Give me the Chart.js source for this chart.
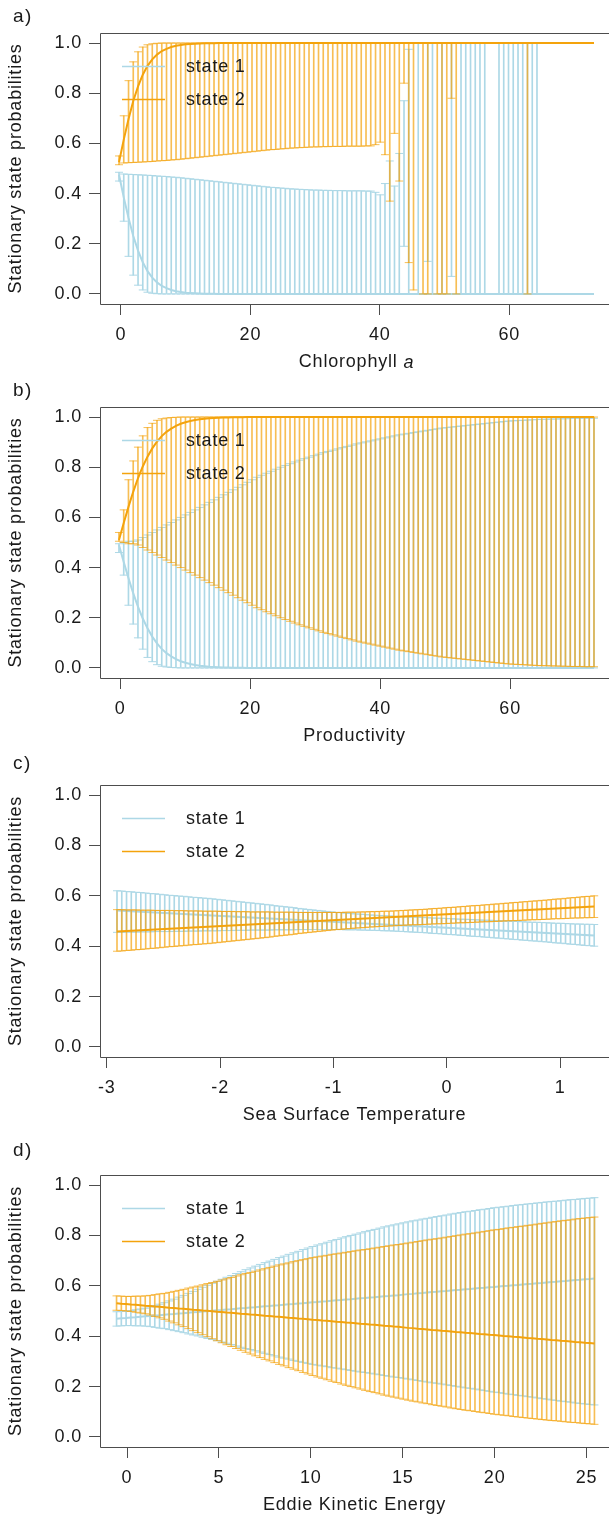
<!DOCTYPE html>
<html>
<head>
<meta charset="utf-8">
<script src="https://cdn.jsdelivr.net/npm/chart.js@4.4.1/dist/chart.umd.min.js"></script>
<style>
  html, body { margin: 0; padding: 0; background: #fff; }
  body { width: 609px; height: 1520px; overflow: hidden; position: relative; font-family: "Liberation Sans", Arial, sans-serif; }
  canvas.panel { position: absolute; left: 0; display: block; }
  .tag { position: absolute; left: 13px; font-size: 19px; line-height: 22px; letter-spacing: 1.5px; color: #1a1a1a; }
</style>
</head>
<body>
<canvas id="pa" class="panel" width="609" height="374" style="top:0px"></canvas>
<canvas id="pb" class="panel" width="609" height="368" style="top:380px"></canvas>
<canvas id="pc" class="panel" width="609" height="367" style="top:760px"></canvas>
<canvas id="pd" class="panel" width="609" height="377" style="top:1140px"></canvas>
<div class="tag" style="top:5px">a)</div>
<div class="tag" style="top:379px">b)</div>
<div class="tag" style="top:752px">c)</div>
<div class="tag" style="top:1139px">d)</div>
<script>
// shared labels and ticks
var legendLabels = ['state 1', 'state 2'];
var yTitle = 'Stationary state probabilities';
var yTicks = [0, 0.2, 0.4, 0.6, 0.8, 1];
var chlTicks = [0, 20, 40, 60];
var prodTicks = [0, 20, 40, 60];
var sstTicks = [-3, -2, -1, 0, 1];
var ekeTicks = [0, 5, 10, 15, 20, 25];
var chlTitleParts = ['Chlorophyll ', 'a'];

// a) Chlorophyll a
var chlX = [
  -0.30, 0.43, 1.17, 1.90, 2.64, 3.37, 4.10, 4.84, 5.57, 6.31,
  7.04, 7.77, 8.51, 9.24, 9.98, 10.71, 11.44, 12.18, 12.91, 13.65,
  14.38, 15.11, 15.85, 16.58, 17.32, 18.05, 18.78, 19.52, 20.25, 20.99,
  21.72, 22.45, 23.19, 23.92, 24.66, 25.39, 26.12, 26.86, 27.59, 28.33,
  29.06, 29.79, 30.53, 31.26, 32.00, 32.73, 33.46, 34.20, 34.93, 35.67,
  36.40, 37.13, 37.87, 38.60, 39.34, 40.07, 40.80, 41.54, 42.27, 43.01,
  43.74, 44.47, 45.21, 45.94, 46.68, 47.41, 48.14, 48.88, 49.61, 50.35,
  51.08, 51.81, 52.55, 53.28, 54.02, 54.75, 55.48, 56.22, 56.95, 57.69,
  58.42, 59.15, 59.89, 60.62, 61.36, 62.09, 62.82, 63.56, 64.29, 65.03,
  65.76, 66.49, 67.23, 67.96, 68.70, 69.43, 70.16, 70.90, 71.63, 72.37,
  73.10
];
var chlS1 = [
  0.475, 0.385, 0.303, 0.231, 0.173, 0.126, 0.091, 0.065, 0.046, 0.032,
  0.023, 0.016, 0.011, 0.008, 0.005, 0.004, 0.003, 0.002, 0.001, 0.001,
  0.001, 0, 0, 0, 0, 0, 0, 0, 0, 0,
  0, 0, 0, 0, 0, 0, 0, 0, 0, 0,
  0, 0, 0, 0, 0, 0, 0, 0, 0, 0,
  0, 0, 0, 0, 0, 0, 0, 0, 0, 0,
  0, 0, 0, 0, 0, 0, 0, 0, 0, 0,
  0, 0, 0, 0, 0, 0, 0, 0, 0, 0,
  0, 0, 0, 0, 0, 0, 0, 0, 0, 0,
  0, 0, 0, 0, 0, 0, 0, 0, 0, 0,
  0
];
var chlS1Lo = [
  0.45, 0.29, 0.15, 0.075, 0.035, 0.016, 0.007, 0.003, 0.001, 0,
  0, 0, 0, 0, 0, 0, 0, 0, 0, 0,
  0, 0, 0, 0, 0, 0, 0, 0, 0, 0,
  0, 0, 0, 0, 0, 0, 0, 0, 0, 0,
  0, 0, 0, 0, 0, 0, 0, 0, 0, 0,
  0, 0, 0, 0, 0, 0, 0, 0, 0, 0,
  0.19, 0, null, 0, null, 0.13, 0, null, 0, null,
  0.07, null, 0, 0, 0, 0, 0, 0, null, null,
  0, 0, 0, 0, 0, 0, 0, 0, 0, null,
  null, null, null, null, null, null, null, null, null, null,
  null
];
var chlS1Hi = [
  0.485, 0.478, 0.477, 0.476, 0.475, 0.474, 0.473, 0.472, 0.470, 0.469,
  0.468, 0.466, 0.465, 0.463, 0.461, 0.459, 0.457, 0.455, 0.453, 0.451,
  0.449, 0.447, 0.445, 0.443, 0.441, 0.439, 0.437, 0.435, 0.433, 0.431,
  0.429, 0.427, 0.425, 0.424, 0.422, 0.421, 0.419, 0.418, 0.417, 0.416,
  0.415, 0.414, 0.414, 0.413, 0.413, 0.412, 0.412, 0.412, 0.411, 0.411,
  0.411, 0.411, 0.410, 0.410, 0.405, 0.395, 0.44, 0.53, 0.43, 0.56,
  0.77, 0.975, null, 1, null, 1, 1, null, 1, null,
  1, null, 1, 1, 1, 1, 1, 1, null, null,
  1, 1, 1, 1, 1, 1, 1, 1, 1, null,
  null, null, null, null, null, null, null, null, null, null,
  null
];
var chlS2 = [
  0.525, 0.615, 0.697, 0.769, 0.827, 0.874, 0.909, 0.935, 0.954, 0.968,
  0.977, 0.984, 0.989, 0.992, 0.995, 0.996, 0.997, 0.998, 0.999, 0.999,
  0.999, 1, 1, 1, 1, 1, 1, 1, 1, 1,
  1, 1, 1, 1, 1, 1, 1, 1, 1, 1,
  1, 1, 1, 1, 1, 1, 1, 1, 1, 1,
  1, 1, 1, 1, 1, 1, 1, 1, 1, 1,
  1, 1, 1, 1, 1, 1, 1, 1, 1, 1,
  1, 1, 1, 1, 1, 1, 1, 1, 1, 1,
  1, 1, 1, 1, 1, 1, 1, 1, 1, 1,
  1, 1, 1, 1, 1, 1, 1, 1, 1, 1,
  1
];
var chlS2Lo = [
  0.515, 0.522, 0.523, 0.524, 0.525, 0.526, 0.527, 0.528, 0.530, 0.531,
  0.532, 0.534, 0.535, 0.537, 0.539, 0.541, 0.543, 0.545, 0.547, 0.549,
  0.551, 0.553, 0.555, 0.557, 0.559, 0.561, 0.563, 0.565, 0.567, 0.569,
  0.571, 0.573, 0.575, 0.576, 0.578, 0.579, 0.581, 0.582, 0.583, 0.584,
  0.585, 0.586, 0.586, 0.587, 0.587, 0.588, 0.588, 0.588, 0.589, 0.589,
  0.589, 0.589, 0.590, 0.590, 0.595, 0.605, 0.555, 0.37, 0.64, 0.45,
  0.84, 0.125, 0.016, null, 0, 0, null, 0, 0, 0,
  0.78, 0, null, null, null, null, null, null, null, null,
  null, null, null, null, null, null, 0, null, null, null,
  null, null, null, null, null, null, null, null, null, null,
  null
];
var chlS2Hi = [
  0.55, 0.71, 0.85, 0.925, 0.965, 0.984, 0.993, 0.997, 0.999, 1,
  1, 1, 1, 1, 1, 1, 1, 1, 1, 1,
  1, 1, 1, 1, 1, 1, 1, 1, 1, 1,
  1, 1, 1, 1, 1, 1, 1, 1, 1, 1,
  1, 1, 1, 1, 1, 1, 1, 1, 1, 1,
  1, 1, 1, 1, 1, 1, 1, 1, 1, 1,
  1, 1, 1, null, 1, 1, null, 1, 1, 1,
  1, 1, null, null, null, null, null, null, null, null,
  null, null, null, null, null, null, 1, null, null, null,
  null, null, null, null, null, null, null, null, null, null,
  null
];

// b) Productivity
var prodX = [
  -0.20, 0.53, 1.26, 1.99, 2.72, 3.46, 4.19, 4.92, 5.65, 6.38,
  7.11, 7.84, 8.57, 9.30, 10.03, 10.77, 11.50, 12.23, 12.96, 13.69,
  14.42, 15.15, 15.88, 16.61, 17.34, 18.08, 18.81, 19.54, 20.27, 21.00,
  21.73, 22.46, 23.19, 23.92, 24.65, 25.39, 26.12, 26.85, 27.58, 28.31,
  29.04, 29.77, 30.50, 31.23, 31.96, 32.70, 33.43, 34.16, 34.89, 35.62,
  36.35, 37.08, 37.81, 38.54, 39.27, 40.01, 40.74, 41.47, 42.20, 42.93,
  43.66, 44.39, 45.12, 45.85, 46.58, 47.32, 48.05, 48.78, 49.51, 50.24,
  50.97, 51.70, 52.43, 53.16, 53.89, 54.63, 55.36, 56.09, 56.82, 57.55,
  58.28, 59.01, 59.74, 60.47, 61.20, 61.94, 62.67, 63.40, 64.13, 64.86,
  65.59, 66.32, 67.05, 67.78, 68.51, 69.25, 69.98, 70.71, 71.44, 72.17,
  72.90
];
var prodS1 = [
  0.490, 0.422, 0.358, 0.298, 0.244, 0.197, 0.158, 0.125, 0.098, 0.076,
  0.059, 0.046, 0.035, 0.027, 0.021, 0.016, 0.012, 0.009, 0.007, 0.005,
  0.004, 0.003, 0.002, 0.002, 0.001, 0.001, 0.001, 0, 0, 0,
  0, 0, 0, 0, 0, 0, 0, 0, 0, 0,
  0, 0, 0, 0, 0, 0, 0, 0, 0, 0,
  0, 0, 0, 0, 0, 0, 0, 0, 0, 0,
  0, 0, 0, 0, 0, 0, 0, 0, 0, 0,
  0, 0, 0, 0, 0, 0, 0, 0, 0, 0,
  0, 0, 0, 0, 0, 0, 0, 0, 0, 0,
  0, 0, 0, 0, 0, 0, 0, 0, 0, 0,
  0
];
var prodS1Lo = [
  0.46, 0.37, 0.25, 0.175, 0.12, 0.075, 0.042, 0.025, 0.013, 0.007,
  0.004, 0.002, 0.001, 0, 0, 0, 0, 0, 0, 0,
  0, 0, 0, 0, 0, 0, 0, 0, 0, 0,
  0, 0, 0, 0, 0, 0, 0, 0, 0, 0,
  0, 0, 0, 0, 0, 0, 0, 0, 0, 0,
  0, 0, 0, 0, 0, 0, 0, 0, 0, 0,
  0, 0, 0, 0, 0, 0, 0, 0, 0, 0,
  0, 0, 0, 0, 0, 0, 0, 0, 0, 0,
  0, 0, 0, 0, 0, 0, 0, 0, 0, 0,
  0, 0, 0, 0, 0, 0, 0, 0, 0, 0,
  0
];
var prodS1Hi = [
  0.495, 0.500, 0.505, 0.505, 0.510, 0.520, 0.530, 0.540, 0.550, 0.560,
  0.570, 0.580, 0.590, 0.600, 0.610, 0.620, 0.630, 0.640, 0.650, 0.660,
  0.670, 0.680, 0.690, 0.700, 0.710, 0.720, 0.730, 0.740, 0.750, 0.760,
  0.768, 0.776, 0.784, 0.792, 0.800, 0.807, 0.814, 0.821, 0.828, 0.834,
  0.840, 0.846, 0.852, 0.858, 0.863, 0.868, 0.873, 0.878, 0.883, 0.888,
  0.893, 0.897, 0.901, 0.905, 0.909, 0.913, 0.917, 0.921, 0.925, 0.929,
  0.932, 0.935, 0.938, 0.941, 0.944, 0.947, 0.950, 0.953, 0.956, 0.958,
  0.960, 0.962, 0.964, 0.966, 0.968, 0.970, 0.972, 0.974, 0.976, 0.978,
  0.980, 0.982, 0.984, 0.985, 0.986, 0.987, 0.988, 0.989, 0.990, 0.991,
  0.991, 0.992, 0.992, 0.993, 0.993, 0.994, 0.994, 0.994, 0.995, 0.995,
  0.995
];
var prodS2 = [
  0.510, 0.578, 0.642, 0.702, 0.756, 0.803, 0.842, 0.875, 0.902, 0.924,
  0.941, 0.954, 0.965, 0.973, 0.979, 0.984, 0.988, 0.991, 0.993, 0.995,
  0.996, 0.997, 0.998, 0.998, 0.999, 0.999, 0.999, 1, 1, 1,
  1, 1, 1, 1, 1, 1, 1, 1, 1, 1,
  1, 1, 1, 1, 1, 1, 1, 1, 1, 1,
  1, 1, 1, 1, 1, 1, 1, 1, 1, 1,
  1, 1, 1, 1, 1, 1, 1, 1, 1, 1,
  1, 1, 1, 1, 1, 1, 1, 1, 1, 1,
  1, 1, 1, 1, 1, 1, 1, 1, 1, 1,
  1, 1, 1, 1, 1, 1, 1, 1, 1, 1,
  1
];
var prodS2Lo = [
  0.505, 0.500, 0.495, 0.495, 0.490, 0.480, 0.470, 0.460, 0.450, 0.440,
  0.430, 0.420, 0.410, 0.400, 0.390, 0.380, 0.370, 0.360, 0.350, 0.340,
  0.330, 0.320, 0.310, 0.300, 0.290, 0.280, 0.270, 0.260, 0.250, 0.240,
  0.232, 0.224, 0.216, 0.208, 0.200, 0.193, 0.186, 0.179, 0.172, 0.166,
  0.160, 0.154, 0.148, 0.142, 0.137, 0.132, 0.127, 0.122, 0.117, 0.112,
  0.107, 0.103, 0.099, 0.095, 0.091, 0.087, 0.083, 0.079, 0.075, 0.071,
  0.068, 0.065, 0.062, 0.059, 0.056, 0.053, 0.050, 0.047, 0.044, 0.042,
  0.040, 0.038, 0.036, 0.034, 0.032, 0.030, 0.028, 0.026, 0.024, 0.022,
  0.020, 0.018, 0.016, 0.015, 0.014, 0.013, 0.012, 0.011, 0.010, 0.009,
  0.009, 0.008, 0.008, 0.007, 0.007, 0.006, 0.006, 0.006, 0.005, 0.005,
  0.005
];
var prodS2Hi = [
  0.54, 0.63, 0.75, 0.825, 0.88, 0.925, 0.958, 0.975, 0.987, 0.993,
  0.996, 0.998, 0.999, 1, 1, 1, 1, 1, 1, 1,
  1, 1, 1, 1, 1, 1, 1, 1, 1, 1,
  1, 1, 1, 1, 1, 1, 1, 1, 1, 1,
  1, 1, 1, 1, 1, 1, 1, 1, 1, 1,
  1, 1, 1, 1, 1, 1, 1, 1, 1, 1,
  1, 1, 1, 1, 1, 1, 1, 1, 1, 1,
  1, 1, 1, 1, 1, 1, 1, 1, 1, 1,
  1, 1, 1, 1, 1, 1, 1, 1, 1, 1,
  1, 1, 1, 1, 1, 1, 1, 1, 1, 1,
  1
];

// c) Sea Surface Temperature
var sstX = [
  -2.910, -2.868, -2.826, -2.784, -2.742, -2.700, -2.657, -2.615, -2.573, -2.531,
  -2.489, -2.447, -2.405, -2.363, -2.321, -2.279, -2.236, -2.194, -2.152, -2.110,
  -2.068, -2.026, -1.984, -1.942, -1.900, -1.858, -1.815, -1.773, -1.731, -1.689,
  -1.647, -1.605, -1.563, -1.521, -1.479, -1.437, -1.394, -1.352, -1.310, -1.268,
  -1.226, -1.184, -1.142, -1.100, -1.058, -1.016, -0.973, -0.931, -0.889, -0.847,
  -0.805, -0.763, -0.721, -0.679, -0.637, -0.595, -0.552, -0.510, -0.468, -0.426,
  -0.384, -0.342, -0.300, -0.258, -0.216, -0.174, -0.131, -0.089, -0.047, -0.005,
  0.037, 0.079, 0.121, 0.163, 0.205, 0.248, 0.290, 0.332, 0.374, 0.416,
  0.458, 0.500, 0.542, 0.584, 0.626, 0.669, 0.711, 0.753, 0.795, 0.837,
  0.879, 0.921, 0.963, 1.005, 1.047, 1.090, 1.132, 1.174, 1.216, 1.258,
  1.300
];
var sstS1 = [
  0.542, 0.541, 0.540, 0.539, 0.538, 0.537, 0.536, 0.535, 0.534, 0.533,
  0.532, 0.531, 0.530, 0.529, 0.528, 0.527, 0.526, 0.525, 0.524, 0.523,
  0.522, 0.521, 0.520, 0.519, 0.518, 0.517, 0.516, 0.515, 0.514, 0.513,
  0.512, 0.511, 0.510, 0.509, 0.508, 0.507, 0.506, 0.505, 0.504, 0.503,
  0.502, 0.501, 0.500, 0.499, 0.498, 0.497, 0.496, 0.495, 0.494, 0.493,
  0.492, 0.491, 0.490, 0.489, 0.488, 0.487, 0.486, 0.485, 0.484, 0.483,
  0.482, 0.481, 0.480, 0.479, 0.478, 0.477, 0.476, 0.475, 0.474, 0.473,
  0.472, 0.471, 0.470, 0.469, 0.468, 0.467, 0.466, 0.465, 0.464, 0.463,
  0.462, 0.461, 0.460, 0.459, 0.458, 0.457, 0.456, 0.455, 0.454, 0.453,
  0.452, 0.451, 0.450, 0.449, 0.448, 0.447, 0.446, 0.445, 0.444, 0.443,
  0.442
];
var sstS1Lo = [
  0.455, 0.455, 0.456, 0.456, 0.456, 0.457, 0.457, 0.457, 0.458, 0.458,
  0.458, 0.458, 0.459, 0.459, 0.459, 0.460, 0.460, 0.460, 0.461, 0.461,
  0.461, 0.461, 0.462, 0.462, 0.462, 0.463, 0.463, 0.463, 0.464, 0.464,
  0.464, 0.464, 0.464, 0.465, 0.465, 0.465, 0.465, 0.465, 0.466, 0.466,
  0.466, 0.466, 0.466, 0.466, 0.466, 0.466, 0.466, 0.466, 0.465, 0.465,
  0.465, 0.464, 0.464, 0.463, 0.463, 0.462, 0.461, 0.461, 0.460, 0.459,
  0.458, 0.457, 0.456, 0.455, 0.454, 0.453, 0.451, 0.450, 0.449, 0.447,
  0.446, 0.445, 0.443, 0.442, 0.440, 0.439, 0.438, 0.436, 0.435, 0.433,
  0.432, 0.430, 0.429, 0.427, 0.426, 0.424, 0.423, 0.421, 0.420, 0.418,
  0.417, 0.415, 0.413, 0.412, 0.410, 0.408, 0.407, 0.405, 0.403, 0.402,
  0.400
];
var sstS1Hi = [
  0.620, 0.619, 0.617, 0.616, 0.614, 0.613, 0.611, 0.609, 0.608, 0.606,
  0.604, 0.602, 0.601, 0.599, 0.598, 0.596, 0.594, 0.593, 0.591, 0.590,
  0.588, 0.586, 0.584, 0.582, 0.580, 0.578, 0.576, 0.574, 0.572, 0.570,
  0.568, 0.566, 0.564, 0.561, 0.559, 0.557, 0.555, 0.553, 0.550, 0.548,
  0.546, 0.544, 0.542, 0.540, 0.538, 0.536, 0.534, 0.533, 0.531, 0.530,
  0.528, 0.527, 0.526, 0.524, 0.523, 0.522, 0.521, 0.520, 0.519, 0.518,
  0.517, 0.516, 0.515, 0.515, 0.514, 0.513, 0.512, 0.511, 0.511, 0.510,
  0.509, 0.508, 0.507, 0.507, 0.506, 0.505, 0.504, 0.503, 0.503, 0.502,
  0.501, 0.500, 0.499, 0.499, 0.498, 0.497, 0.496, 0.495, 0.495, 0.494,
  0.493, 0.492, 0.491, 0.491, 0.490, 0.489, 0.488, 0.488, 0.487, 0.487,
  0.486
];
var sstS2 = [
  0.458, 0.459, 0.460, 0.461, 0.462, 0.463, 0.464, 0.465, 0.466, 0.467,
  0.468, 0.469, 0.470, 0.471, 0.472, 0.473, 0.474, 0.475, 0.476, 0.477,
  0.478, 0.479, 0.480, 0.481, 0.482, 0.483, 0.484, 0.485, 0.486, 0.487,
  0.488, 0.489, 0.490, 0.491, 0.492, 0.493, 0.494, 0.495, 0.496, 0.497,
  0.498, 0.499, 0.500, 0.501, 0.502, 0.503, 0.504, 0.505, 0.506, 0.507,
  0.508, 0.509, 0.510, 0.511, 0.512, 0.513, 0.514, 0.515, 0.516, 0.517,
  0.518, 0.519, 0.520, 0.521, 0.522, 0.523, 0.524, 0.525, 0.526, 0.527,
  0.528, 0.529, 0.530, 0.531, 0.532, 0.533, 0.534, 0.535, 0.536, 0.537,
  0.538, 0.539, 0.540, 0.541, 0.542, 0.543, 0.544, 0.545, 0.546, 0.547,
  0.548, 0.549, 0.550, 0.551, 0.552, 0.553, 0.554, 0.555, 0.556, 0.557,
  0.558
];
var sstS2Lo = [
  0.380, 0.381, 0.383, 0.384, 0.386, 0.387, 0.389, 0.391, 0.392, 0.394,
  0.396, 0.398, 0.399, 0.401, 0.402, 0.404, 0.406, 0.407, 0.409, 0.410,
  0.412, 0.414, 0.416, 0.418, 0.420, 0.422, 0.424, 0.426, 0.428, 0.430,
  0.432, 0.434, 0.436, 0.439, 0.441, 0.443, 0.445, 0.447, 0.450, 0.452,
  0.454, 0.456, 0.458, 0.460, 0.462, 0.464, 0.466, 0.467, 0.469, 0.470,
  0.472, 0.473, 0.474, 0.476, 0.477, 0.478, 0.479, 0.480, 0.481, 0.482,
  0.483, 0.484, 0.485, 0.485, 0.486, 0.487, 0.488, 0.489, 0.489, 0.490,
  0.491, 0.492, 0.493, 0.493, 0.494, 0.495, 0.496, 0.497, 0.497, 0.498,
  0.499, 0.500, 0.501, 0.501, 0.502, 0.503, 0.504, 0.505, 0.505, 0.506,
  0.507, 0.508, 0.509, 0.509, 0.510, 0.511, 0.512, 0.512, 0.513, 0.513,
  0.514
];
var sstS2Hi = [
  0.545, 0.545, 0.544, 0.544, 0.544, 0.543, 0.543, 0.543, 0.542, 0.542,
  0.542, 0.542, 0.541, 0.541, 0.541, 0.540, 0.540, 0.540, 0.539, 0.539,
  0.539, 0.539, 0.538, 0.538, 0.538, 0.537, 0.537, 0.537, 0.536, 0.536,
  0.536, 0.536, 0.536, 0.535, 0.535, 0.535, 0.535, 0.535, 0.534, 0.534,
  0.534, 0.534, 0.534, 0.534, 0.534, 0.534, 0.534, 0.534, 0.535, 0.535,
  0.535, 0.536, 0.536, 0.537, 0.537, 0.538, 0.539, 0.539, 0.540, 0.541,
  0.542, 0.543, 0.544, 0.545, 0.546, 0.547, 0.549, 0.550, 0.551, 0.553,
  0.554, 0.555, 0.557, 0.558, 0.560, 0.561, 0.562, 0.564, 0.565, 0.567,
  0.568, 0.570, 0.571, 0.573, 0.574, 0.576, 0.577, 0.579, 0.580, 0.582,
  0.583, 0.585, 0.587, 0.588, 0.590, 0.592, 0.593, 0.595, 0.597, 0.598,
  0.600
];

// d) Eddie Kinetic Energy
var ekeX = [
  -0.57, -0.31, -0.05, 0.21, 0.47, 0.73, 0.99, 1.25, 1.51, 1.77,
  2.03, 2.29, 2.55, 2.81, 3.07, 3.33, 3.59, 3.85, 4.11, 4.37,
  4.63, 4.89, 5.15, 5.41, 5.67, 5.93, 6.19, 6.45, 6.71, 6.97,
  7.23, 7.49, 7.75, 8.01, 8.27, 8.53, 8.79, 9.05, 9.31, 9.57,
  9.83, 10.09, 10.35, 10.61, 10.87, 11.13, 11.39, 11.65, 11.91, 12.17,
  12.43, 12.69, 12.95, 13.21, 13.47, 13.73, 13.99, 14.25, 14.51, 14.77,
  15.03, 15.29, 15.55, 15.81, 16.07, 16.33, 16.59, 16.85, 17.11, 17.37,
  17.63, 17.89, 18.15, 18.41, 18.67, 18.93, 19.19, 19.45, 19.71, 19.97,
  20.23, 20.49, 20.75, 21.01, 21.27, 21.53, 21.79, 22.05, 22.31, 22.57,
  22.83, 23.09, 23.35, 23.61, 23.87, 24.13, 24.39, 24.65, 24.91, 25.17,
  25.43
];
var ekeS1 = [
  0.469, 0.471, 0.472, 0.474, 0.475, 0.477, 0.479, 0.480, 0.482, 0.483,
  0.485, 0.487, 0.488, 0.490, 0.491, 0.493, 0.495, 0.496, 0.498, 0.499,
  0.501, 0.503, 0.504, 0.506, 0.507, 0.509, 0.511, 0.512, 0.514, 0.515,
  0.517, 0.519, 0.520, 0.522, 0.523, 0.525, 0.527, 0.528, 0.530, 0.531,
  0.533, 0.535, 0.536, 0.538, 0.539, 0.541, 0.543, 0.544, 0.546, 0.547,
  0.549, 0.551, 0.552, 0.554, 0.555, 0.557, 0.559, 0.560, 0.562, 0.563,
  0.565, 0.567, 0.568, 0.570, 0.571, 0.573, 0.575, 0.576, 0.578, 0.579,
  0.581, 0.583, 0.584, 0.586, 0.587, 0.589, 0.591, 0.592, 0.594, 0.595,
  0.597, 0.599, 0.600, 0.602, 0.603, 0.605, 0.607, 0.608, 0.610, 0.611,
  0.613, 0.615, 0.616, 0.618, 0.619, 0.621, 0.623, 0.624, 0.626, 0.627,
  0.629
];
var ekeS1Lo = [
  0.440, 0.441, 0.442, 0.442, 0.441, 0.441, 0.440, 0.438, 0.435, 0.432,
  0.430, 0.426, 0.422, 0.418, 0.414, 0.409, 0.405, 0.401, 0.396, 0.391,
  0.387, 0.382, 0.377, 0.372, 0.367, 0.361, 0.356, 0.351, 0.347, 0.342,
  0.337, 0.332, 0.327, 0.322, 0.317, 0.313, 0.309, 0.304, 0.300, 0.296,
  0.292, 0.288, 0.285, 0.282, 0.279, 0.275, 0.273, 0.270, 0.267, 0.264,
  0.261, 0.258, 0.256, 0.253, 0.250, 0.247, 0.244, 0.241, 0.238, 0.236,
  0.233, 0.230, 0.227, 0.224, 0.221, 0.218, 0.215, 0.213, 0.210, 0.207,
  0.204, 0.201, 0.198, 0.195, 0.193, 0.190, 0.187, 0.184, 0.181, 0.178,
  0.176, 0.173, 0.170, 0.168, 0.165, 0.163, 0.160, 0.158, 0.155, 0.152,
  0.150, 0.147, 0.145, 0.142, 0.140, 0.138, 0.135, 0.133, 0.131, 0.129,
  0.127
];
var ekeS1Hi = [
  0.497, 0.498, 0.500, 0.502, 0.505, 0.508, 0.511, 0.516, 0.522, 0.527,
  0.533, 0.540, 0.547, 0.555, 0.562, 0.570, 0.578, 0.586, 0.594, 0.602,
  0.610, 0.618, 0.626, 0.634, 0.641, 0.649, 0.656, 0.664, 0.671, 0.678,
  0.685, 0.692, 0.698, 0.705, 0.712, 0.718, 0.725, 0.731, 0.737, 0.744,
  0.750, 0.756, 0.762, 0.767, 0.773, 0.779, 0.784, 0.790, 0.795, 0.800,
  0.805, 0.810, 0.815, 0.820, 0.824, 0.829, 0.834, 0.838, 0.842, 0.846,
  0.850, 0.854, 0.858, 0.861, 0.865, 0.868, 0.872, 0.875, 0.878, 0.881,
  0.885, 0.888, 0.891, 0.894, 0.896, 0.899, 0.902, 0.904, 0.907, 0.910,
  0.912, 0.914, 0.916, 0.919, 0.921, 0.923, 0.925, 0.927, 0.929, 0.931,
  0.933, 0.935, 0.936, 0.938, 0.940, 0.942, 0.943, 0.945, 0.947, 0.948,
  0.950
];
var ekeS2 = [
  0.531, 0.529, 0.528, 0.526, 0.525, 0.523, 0.521, 0.520, 0.518, 0.517,
  0.515, 0.513, 0.512, 0.510, 0.509, 0.507, 0.505, 0.504, 0.502, 0.501,
  0.499, 0.497, 0.496, 0.494, 0.493, 0.491, 0.489, 0.488, 0.486, 0.485,
  0.483, 0.481, 0.480, 0.478, 0.477, 0.475, 0.473, 0.472, 0.470, 0.469,
  0.467, 0.465, 0.464, 0.462, 0.461, 0.459, 0.457, 0.456, 0.454, 0.453,
  0.451, 0.449, 0.448, 0.446, 0.445, 0.443, 0.441, 0.440, 0.438, 0.437,
  0.435, 0.433, 0.432, 0.430, 0.429, 0.427, 0.425, 0.424, 0.422, 0.421,
  0.419, 0.417, 0.416, 0.414, 0.413, 0.411, 0.409, 0.408, 0.406, 0.405,
  0.403, 0.401, 0.400, 0.398, 0.397, 0.395, 0.393, 0.392, 0.390, 0.389,
  0.387, 0.385, 0.384, 0.382, 0.381, 0.379, 0.377, 0.376, 0.374, 0.373,
  0.371
];
var ekeS2Lo = [
  0.503, 0.502, 0.500, 0.498, 0.495, 0.492, 0.489, 0.484, 0.478, 0.473,
  0.467, 0.460, 0.453, 0.445, 0.438, 0.430, 0.422, 0.414, 0.406, 0.398,
  0.390, 0.382, 0.374, 0.366, 0.359, 0.351, 0.344, 0.336, 0.329, 0.322,
  0.315, 0.308, 0.302, 0.295, 0.288, 0.282, 0.275, 0.269, 0.263, 0.256,
  0.250, 0.244, 0.238, 0.233, 0.227, 0.221, 0.216, 0.210, 0.205, 0.200,
  0.195, 0.190, 0.185, 0.180, 0.176, 0.171, 0.166, 0.162, 0.158, 0.154,
  0.150, 0.146, 0.142, 0.139, 0.135, 0.132, 0.128, 0.125, 0.122, 0.119,
  0.115, 0.112, 0.109, 0.106, 0.104, 0.101, 0.098, 0.096, 0.093, 0.090,
  0.088, 0.086, 0.084, 0.081, 0.079, 0.077, 0.075, 0.073, 0.071, 0.069,
  0.067, 0.065, 0.064, 0.062, 0.060, 0.058, 0.057, 0.055, 0.053, 0.052,
  0.050
];
var ekeS2Hi = [
  0.560, 0.559, 0.558, 0.558, 0.559, 0.559, 0.560, 0.562, 0.565, 0.568,
  0.570, 0.574, 0.578, 0.582, 0.586, 0.591, 0.595, 0.599, 0.604, 0.609,
  0.613, 0.618, 0.623, 0.628, 0.633, 0.639, 0.644, 0.649, 0.653, 0.658,
  0.663, 0.668, 0.673, 0.678, 0.683, 0.687, 0.691, 0.696, 0.700, 0.704,
  0.708, 0.712, 0.715, 0.718, 0.721, 0.725, 0.727, 0.730, 0.733, 0.736,
  0.739, 0.742, 0.744, 0.747, 0.750, 0.753, 0.756, 0.759, 0.762, 0.764,
  0.767, 0.770, 0.773, 0.776, 0.779, 0.782, 0.785, 0.787, 0.790, 0.793,
  0.796, 0.799, 0.802, 0.805, 0.807, 0.810, 0.813, 0.816, 0.819, 0.822,
  0.824, 0.827, 0.830, 0.832, 0.835, 0.837, 0.840, 0.842, 0.845, 0.848,
  0.850, 0.853, 0.855, 0.858, 0.860, 0.862, 0.865, 0.867, 0.869, 0.871,
  0.873
];

// styling
var BLUE = '#add8e6';
var ORANGE = '#f4a30c';
var ORANGE_BAR = 'rgba(244, 163, 12, 0.7)';
var TEXT = '#1a1a1a';
var AXIS = '#4d4d4d';
var FAMILY = '"Liberation Sans", Arial, sans-serif';
var SPACING = '0.8px';
var FSIZE = 18;
var baseFont = { family: FAMILY, size: FSIZE };

function toPts(xs, ys) {
  return xs.map(function (x, i) { return { x: x, y: ys[i] }; });
}
function toRanges(xs, lo, hi) {
  return xs.map(function (x, i) {
    return { x: x, y: (lo[i] === null || hi[i] === null) ? null : [lo[i], hi[i]] };
  });
}

// one state: CI bars, caps, then the mean line
function stateSets(xs, mean, lo, hi, color, barColor, order) {
  return [
    { type: 'bar', data: toRanges(xs, lo, hi), backgroundColor: barColor, borderWidth: 0,
      barThickness: 1, grouped: false, order: order + 3 },
    { type: 'line', data: toPts(xs, hi), showLine: false, pointStyle: 'line', pointRadius: 4,
      pointBorderWidth: 1, pointBorderColor: barColor, pointBackgroundColor: barColor, order: order + 2 },
    { type: 'line', data: toPts(xs, lo), showLine: false, pointStyle: 'line', pointRadius: 4,
      pointBorderWidth: 1, pointBorderColor: barColor, pointBackgroundColor: barColor, order: order + 2 },
    { type: 'line', data: toPts(xs, mean), borderColor: color, borderWidth: 2, pointRadius: 0,
      tension: 0, fill: false, order: order + 1 }
  ];
}

var letterSpacing = {
  id: 'letterSpacing',
  beforeDraw: function (chart) { chart.ctx.letterSpacing = SPACING; }
};

// R-style frame: the right side lies outside the cropped picture
var boxPlugin = {
  id: 'rBox',
  afterDraw: function (chart) {
    var a = chart.chartArea, ctx = chart.ctx;
    var l = Math.round(a.left) + 0.5, t = Math.round(a.top) + 0.5, b = Math.round(a.bottom) + 0.5;
    ctx.save();
    ctx.strokeStyle = AXIS;
    ctx.lineWidth = 1;
    ctx.beginPath();
    ctx.moveTo(chart.width, t);
    ctx.lineTo(l, t);
    ctx.lineTo(l, b);
    ctx.lineTo(chart.width, b);
    ctx.stroke();
    ctx.restore();
  }
};

var legendPlugin = {
  id: 'rLegend',
  afterDatasetsDraw: function (chart) {
    var a = chart.chartArea, ctx = chart.ctx;
    ctx.save();
    ctx.letterSpacing = SPACING;
    ctx.font = FSIZE + 'px ' + FAMILY;
    ctx.textBaseline = 'middle';
    ctx.textAlign = 'left';
    legendLabels.forEach(function (label, k) {
      var y = Math.round(a.top + 33 + 33 * k) + 0.5;
      ctx.strokeStyle = k === 0 ? BLUE : ORANGE;
      ctx.lineWidth = 1.5;
      ctx.beginPath();
      ctx.moveTo(a.left + 22, y);
      ctx.lineTo(a.left + 65, y);
      ctx.stroke();
      ctx.fillStyle = TEXT;
      ctx.fillText(label, a.left + 86, y + 1);
    });
    ctx.restore();
  }
};

// "Chlorophyll a" needs an italic "a"
var chlTitle = {
  id: 'chlTitle',
  afterDraw: function (chart) {
    var a = chart.chartArea, ctx = chart.ctx;
    var normal = FSIZE + 'px ' + FAMILY, italic = 'italic ' + FSIZE + 'px ' + FAMILY;
    ctx.save();
    ctx.letterSpacing = SPACING;
    ctx.fillStyle = TEXT;
    ctx.textBaseline = 'middle';
    ctx.textAlign = 'left';
    ctx.font = normal;
    var w1 = ctx.measureText(chlTitleParts[0]).width;
    ctx.font = italic;
    var w2 = ctx.measureText(chlTitleParts[1]).width;
    var x = 356.5 - (w1 + w2) / 2;
    var y = chart.height - 11.5;
    ctx.font = normal;
    ctx.fillText(chlTitleParts[0], x, y);
    ctx.font = italic;
    ctx.fillText(chlTitleParts[1], x + w1, y);
    ctx.restore();
  }
};

function makePanel(id, p) {
  var datasets = stateSets(p.x, p.s1, p.s1Lo, p.s1Hi, BLUE, BLUE, 4)
    .concat(stateSets(p.x, p.s2, p.s2Lo, p.s2Hi, ORANGE, ORANGE_BAR, 0));
  var plugins = [letterSpacing, boxPlugin, legendPlugin];
  if (!p.title) plugins.push(chlTitle);
  new Chart(document.getElementById(id), {
    type: 'line',
    data: { datasets: datasets },
    options: {
      responsive: false,
      animation: false,
      events: [],
      // plot region is cut by the right edge of the picture
      layout: { autoPadding: false, padding: { top: p.padTop, right: 0, bottom: 0, left: 0 } },
      plugins: { legend: { display: false }, tooltip: { enabled: false } },
      scales: {
        x: {
          type: 'linear', min: p.xMin, max: p.xMax, offset: false,
          afterBuildTicks: function (s) { s.ticks = p.xTicks.map(function (v) { return { value: v }; }); },
          afterFit: function (s) { s.height = 70; },
          grid: { display: true, offset: false, drawOnChartArea: false, drawTicks: true, tickLength: 11,
                  tickColor: AXIS, tickWidth: 1 },
          border: { display: false },
          ticks: { font: baseFont, color: TEXT, padding: 9, maxRotation: 0, autoSkip: false,
                   callback: function (v) { return String(v); } },
          title: { display: !!p.title, text: p.title || '', font: baseFont, color: TEXT,
                   padding: { top: 0, bottom: 0.7 } }
        },
        y: {
          min: -0.04, max: 1.04,
          afterBuildTicks: function (s) { s.ticks = yTicks.map(function (v) { return { value: v }; }); },
          afterFit: function (s) { s.width = 100; },
          grid: { display: true, drawOnChartArea: false, drawTicks: true, tickLength: 11,
                  tickColor: AXIS, tickWidth: 1 },
          border: { display: false },
          ticks: { font: baseFont, color: TEXT, padding: 7,
                   callback: function (v) { return Number(v).toFixed(1); } },
          title: { display: true, text: yTitle, font: baseFont, color: TEXT,
                   padding: { top: 5.5, bottom: 0 } }
        }
      }
    },
    plugins: plugins
  });
}

makePanel('pa', { x: chlX, s1: chlS1, s1Lo: chlS1Lo, s1Hi: chlS1Hi, s2: chlS2, s2Lo: chlS2Lo, s2Hi: chlS2Hi,
  xMin: -3.24, xMax: 75.42, xTicks: chlTicks, title: null, padTop: 33 });
makePanel('pb', { x: prodX, s1: prodS1, s1Lo: prodS1Lo, s1Hi: prodS1Hi, s2: prodS2, s2Lo: prodS2Lo, s2Hi: prodS2Hi,
  xMin: -3.12, xMax: 75.21, xTicks: prodTicks, title: 'Productivity', padTop: 27 });
makePanel('pc', { x: sstX, s1: sstS1, s1Lo: sstS1Lo, s1Hi: sstS1Hi, s2: sstS2, s2Lo: sstS2Lo, s2Hi: sstS2Hi,
  xMin: -3.06, xMax: 1.4306, xTicks: sstTicks, title: 'Sea Surface Temperature', padTop: 25 });
makePanel('pd', { x: ekeX, s1: ekeS1, s1Lo: ekeS1Lo, s1Hi: ekeS1Hi, s2: ekeS2, s2Lo: ekeS2Lo, s2Hi: ekeS2Hi,
  xMin: -1.47, xMax: 26.222, xTicks: ekeTicks, title: 'Eddie Kinetic Energy', padTop: 35 });
</script>
</body>
</html>
